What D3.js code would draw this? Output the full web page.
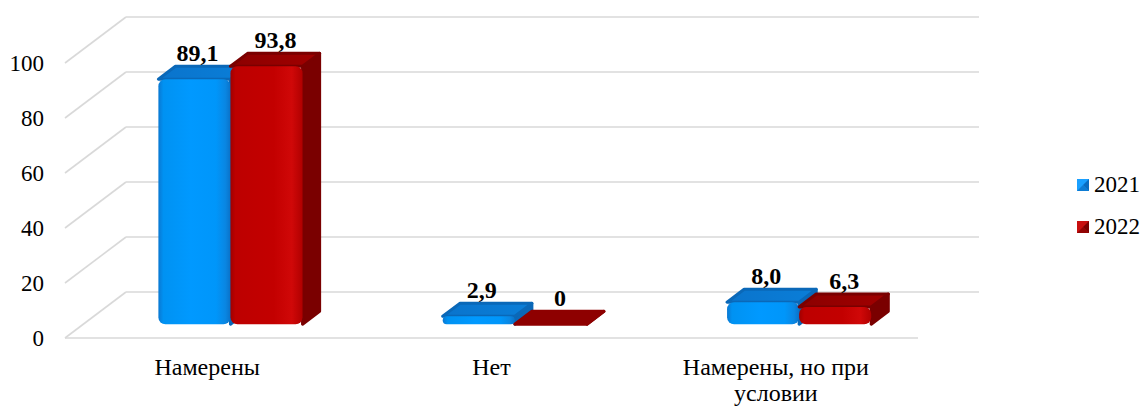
<!DOCTYPE html>
<html>
<head>
<meta charset="utf-8">
<title>Намерены</title>
<script src="https://d3js.org/d3.v7.min.js"></script>
</head>
<body style="margin:0; background:#fff">
<script>
// data
var categories = ["Намерены", "Нет", "Намерены, но при условии"];
var series = ["2021", "2022"];
var values2021 = [89.1, 2.9, 8.0];
var values2022 = [93.8, 0, 6.3];
var labels2021 = ["89,1", "2,9", "8,0"];
var labels2022 = ["93,8", "0", "6,3"];
var yTicks = [0, 20, 40, 60, 80, 100];

var width = 1145, height = 406;
var FONT = "Liberation Serif";
var DX = 61, DY = 46;      // depth of the floor (3d offset)
var d0 = 0.3, d1 = 0.58;   // depth slice where the bars sit

var svg = d3.select("body").append("svg")
  .attr("width", width)
  .attr("height", height)
  .attr("font-family", FONT);

// scales on the front plane
var x = d3.scaleBand().domain(categories).range([65, 918]);
var y = d3.scaleLinear().domain([0, 100]).range([338, 63]);
var clusterW = x.bandwidth() * 0.507;
var xs = d3.scaleBand().domain(series).range([0, clusterW]);

function proj(px, v, d) { return [px + d * DX, y(v) - d * DY]; }

// gradients
var defs = svg.append("defs");
function hgrad(id, stops) {
  var g = defs.append("linearGradient").attr("id", id)
    .attr("x1", "0%").attr("x2", "100%").attr("y1", "0%").attr("y2", "0%");
  stops.forEach(function(s) {
    g.append("stop").attr("offset", s[0]).attr("stop-color", s[1]);
  });
}
hgrad("blueFront", [["0%", "#0a78d2"], ["7%", "#0092f2"], ["45%", "#0099ff"], ["80%", "#0096fa"], ["93%", "#0a86e2"], ["100%", "#0a72c8"]]);
hgrad("blueTop", [["0%", "#0a74cc"], ["100%", "#0a7ed8"]]);
hgrad("redFront", [["0%", "#a00000"], ["7%", "#bd0000"], ["60%", "#c30000"], ["85%", "#d00808"], ["100%", "#b00000"]]);
hgrad("redTop", [["0%", "#8c0000"], ["100%", "#a00000"]]);

var styles = {
  "2021": { front: "url(#blueFront)", top: "url(#blueTop)", side: "#0a68b8", flat: "#0a7ad4" },
  "2022": { front: "url(#redFront)", top: "url(#redTop)", side: "#7a0000", flat: "#8e0000" }
};

// gridlines: back wall, left wall diagonals, front floor edge
var grid = svg.append("g").attr("stroke", "#d9d9d9").attr("stroke-width", 1.6).attr("fill", "none");
yTicks.forEach(function(t) {
  var a = proj(65, t, 0), b = proj(65, t, 1), c = proj(918, t, 1);
  grid.append("line").attr("x1", b[0]).attr("y1", b[1]).attr("x2", c[0]).attr("y2", c[1]);
  grid.append("line").attr("x1", a[0]).attr("y1", a[1]).attr("x2", b[0]).attr("y2", b[1]);
});
grid.append("line").attr("x1", 65).attr("y1", y(0)).attr("x2", 918).attr("y2", y(0));

// y axis labels
var yAxis = svg.append("g")
  .attr("transform", "translate(50,0)")
  .call(d3.axisLeft(y).tickValues(yTicks).tickSize(0).tickPadding(6).tickFormat(d3.format("d")));
yAxis.attr("font-family", FONT).attr("font-size", 23);
yAxis.select(".domain").remove();
yAxis.selectAll("text").attr("fill", "#000").attr("dy", "0.34em");

// x axis labels
var xAxis = svg.append("g")
  .attr("transform", "translate(0,352)")
  .call(d3.axisBottom(x).tickSize(0).tickPadding(0));
xAxis.attr("font-family", FONT).attr("font-size", 24);
xAxis.select(".domain").remove();
xAxis.selectAll("text").each(function(d) {
  var t = d3.select(this).text("").attr("y", 0).attr("dy", null).attr("fill", "#000");
  var lines = d === "Намерены, но при условии" ? ["Намерены, но при", "условии"] : [d];
  lines.forEach(function(l, i) {
    t.append("tspan").attr("x", 0).attr("y", 23 + i * 26).text(l);
  });
});

// bars
var rows = [];
categories.forEach(function(c, i) {
  rows.push({ cat: c, s: "2021", v: values2021[i], label: labels2021[i] });
  rows.push({ cat: c, s: "2022", v: values2022[i], label: labels2022[i] });
});

var bars = svg.append("g");
rows.forEach(function(r) {
  var st = styles[r.s];
  var xl = x(r.cat) + x.bandwidth() / 2 - clusterW / 2 + 5 + xs(r.s);
  var xr = xl + xs.bandwidth();
  var g = bars.append("g");
  var pts = function(arr) { return arr.map(function(p) { return p.join(","); }).join(" "); };

  // side face
  g.append("polygon")
    .attr("points", pts([proj(xr, r.v, d0), proj(xr, r.v, d1), proj(xr, 0, d1), proj(xr, 0, d0)]))
    .attr("fill", st.side).attr("stroke", st.side).attr("stroke-linejoin", "round").attr("stroke-width", 3);
  // top face
  g.append("polygon")
    .attr("points", pts([proj(xl, r.v, d0), proj(xr, r.v, d0), proj(xr, r.v, d1), proj(xl, r.v, d1)]))
    .attr("fill", r.v === 0 ? st.flat : st.top)
    .attr("stroke", r.v === 0 ? st.flat : st.side).attr("stroke-width", 3).attr("stroke-linejoin", "round");
  // front face
  var ft = proj(xl, r.v, d0), fb = proj(xr, 0, d0);
  var h = fb[1] - ft[1];
  if (h > 0) {
    g.append("rect")
      .attr("x", ft[0]).attr("y", ft[1])
      .attr("width", fb[0] - ft[0]).attr("height", h)
      .attr("rx", Math.min(7, h / 2))
      .attr("fill", st.front);
  }
  // value label
  var top = proj((xl + xr) / 2, r.v, d1);
  svg.append("text")
    .attr("x", top[0] - 14 + (r.s === "2022" ? 6 : 0))
    .attr("y", top[1] - 5)
    .attr("text-anchor", "middle")
    .attr("font-family", FONT).attr("font-size", 24).attr("font-weight", "bold")
    .text(r.label);
});

// legend
var legend = svg.append("g").attr("transform", "translate(1077,179)");
series.forEach(function(s, i) {
  var g = legend.append("g").attr("transform", "translate(0," + i * 42 + ")");
  var light = s === "2021" ? "#1aa0ff" : "#c81010";
  var dark = s === "2021" ? "#0a6cc0" : "#7a0000";
  g.append("rect").attr("width", 12).attr("height", 12).attr("fill", light);
  g.append("polygon").attr("points", "12,0 12,12 6,6").attr("fill", dark);
  g.append("polygon").attr("points", "0,12 12,12 6,6").attr("fill", dark).attr("opacity", 0.7);
  g.append("text").attr("x", 17).attr("y", 13)
    .attr("font-family", FONT).attr("font-size", 23).text(s);
});
</script>
</body>
</html>
